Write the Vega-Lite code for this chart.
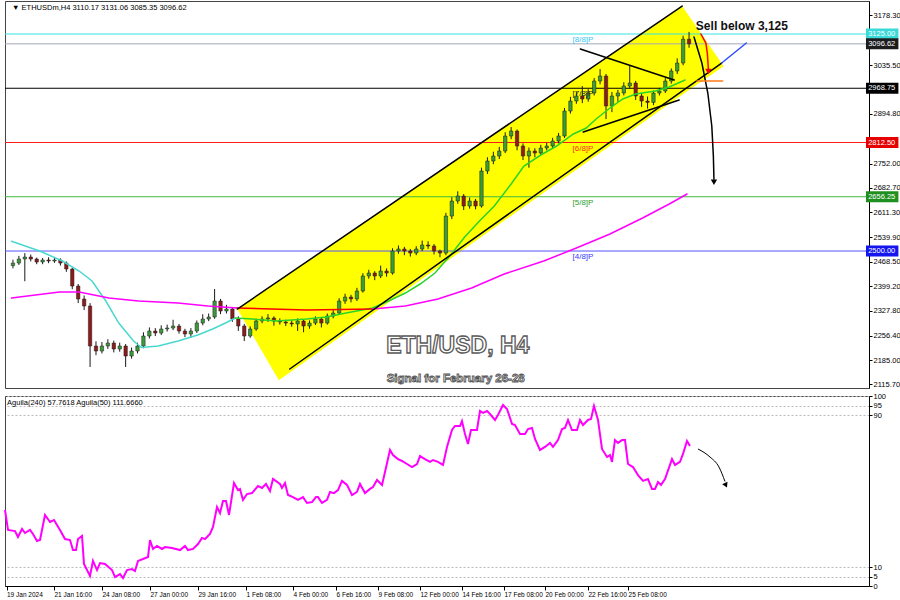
{
"$schema":"https://vega.github.io/schema/vega-lite/v6.json",
"padding":0,
"background":"white",
"spacing":2,
"config":{"view":{"stroke":"#444","strokeWidth":1},"font":"Liberation Sans","axis":{"labelFont":"Liberation Sans","labelColor":"#000","domainColor":"#000","tickColor":"#000","grid":false},"text":{"font":"Liberation Sans"}},
"datasets":{
"candles":[
{"t":1,"o":2458,"h":2475,"l":2450,"c":2465.4},{"t":3,"o":2465.4,"h":2486,"l":2460,"c":2477},{"t":5,"o":2477,"h":2494,"l":2413,"c":2482.7},{"t":7,"o":2482.7,"h":2490,"l":2470,"c":2477},{"t":9,"o":2477,"h":2481,"l":2462,"c":2468.3},{"t":11,"o":2468.3,"h":2480,"l":2462,"c":2474.1},{"t":13,"o":2474.1,"h":2482,"l":2465,"c":2471.2},{"t":15,"o":2471.2,"h":2481,"l":2466,"c":2474.1},{"t":17,"o":2474.1,"h":2479,"l":2458,"c":2465.4},{"t":19,"o":2465.4,"h":2470,"l":2440,"c":2448.2},
{"t":21,"o":2448.2,"h":2452,"l":2390,"c":2399.2},{"t":23,"o":2399.2,"h":2405,"l":2350,"c":2361.8},{"t":25,"o":2361.8,"h":2372,"l":2330,"c":2341.6},{"t":27,"o":2341.6,"h":2350,"l":2166,"c":2226.4},{"t":29,"o":2226.4,"h":2240,"l":2200,"c":2212},{"t":31,"o":2212,"h":2238,"l":2205,"c":2226.4},{"t":33,"o":2226.4,"h":2246,"l":2218,"c":2235},{"t":35,"o":2235,"h":2242,"l":2208,"c":2217.8},{"t":37,"o":2217.8,"h":2236,"l":2210,"c":2226.4},{"t":39,"o":2226.4,"h":2232,"l":2166,"c":2197.6},
{"t":41,"o":2197.6,"h":2222,"l":2190,"c":2212},{"t":43,"o":2212,"h":2236,"l":2205,"c":2226.4},{"t":45,"o":2226.4,"h":2266,"l":2220,"c":2255.2},{"t":47,"o":2255.2,"h":2280,"l":2248,"c":2269.6},{"t":49,"o":2269.6,"h":2278,"l":2255,"c":2263.8},{"t":51,"o":2263.8,"h":2286,"l":2258,"c":2275.4},{"t":53,"o":2275.4,"h":2288,"l":2268,"c":2278.2},{"t":55,"o":2278.2,"h":2302,"l":2272,"c":2284},{"t":57,"o":2284,"h":2290,"l":2262,"c":2269.6},{"t":59,"o":2269.6,"h":2276,"l":2252,"c":2261},
{"t":61,"o":2261,"h":2278,"l":2250,"c":2269.6},{"t":63,"o":2269.6,"h":2300,"l":2264,"c":2292.6},{"t":65,"o":2292.6,"h":2318,"l":2286,"c":2304.2},{"t":67,"o":2304.2,"h":2320,"l":2298,"c":2309.9},{"t":69,"o":2309.9,"h":2390.6,"l":2305,"c":2356},{"t":71,"o":2356,"h":2362,"l":2318,"c":2327.2},{"t":73,"o":2327.2,"h":2345,"l":2320,"c":2333},{"t":75,"o":2333,"h":2338,"l":2296,"c":2304.2},{"t":77,"o":2304.2,"h":2312,"l":2270,"c":2284},{"t":79,"o":2284,"h":2290,"l":2240.8,"c":2255.2},
{"t":81,"o":2255.2,"h":2283,"l":2250,"c":2275.4},{"t":83,"o":2275.4,"h":2305,"l":2270,"c":2298.4},{"t":85,"o":2298.4,"h":2312,"l":2292,"c":2304.2},{"t":87,"o":2304.2,"h":2318,"l":2296,"c":2307},{"t":89,"o":2307,"h":2312,"l":2285,"c":2298.4},{"t":91,"o":2298.4,"h":2306,"l":2288,"c":2295.5},{"t":93,"o":2295.5,"h":2302,"l":2284,"c":2292.6},{"t":95,"o":2292.6,"h":2300,"l":2282,"c":2290},{"t":97,"o":2290,"h":2306,"l":2270,"c":2298.4},{"t":99,"o":2298.4,"h":2302,"l":2266,"c":2284},
{"t":101,"o":2284,"h":2300,"l":2276,"c":2292.6},{"t":103,"o":2292.6,"h":2312,"l":2287,"c":2304.2},{"t":105,"o":2304.2,"h":2310,"l":2280,"c":2292.6},{"t":107,"o":2292.6,"h":2320,"l":2288,"c":2312.8},{"t":109,"o":2312.8,"h":2330,"l":2306,"c":2321.4},{"t":111,"o":2321.4,"h":2364,"l":2316,"c":2356},{"t":113,"o":2356,"h":2377,"l":2348,"c":2367.5},{"t":115,"o":2367.5,"h":2374,"l":2352,"c":2362},{"t":117,"o":2362,"h":2394,"l":2356,"c":2384.8},{"t":119,"o":2384.8,"h":2436,"l":2380,"c":2428},
{"t":121,"o":2428,"h":2446,"l":2420,"c":2436.6},{"t":123,"o":2436.6,"h":2442,"l":2416,"c":2428},{"t":125,"o":2428,"h":2458,"l":2422,"c":2442.4},{"t":127,"o":2442.4,"h":2450,"l":2426,"c":2436.6},{"t":129,"o":2436.6,"h":2508,"l":2432,"c":2500},{"t":131,"o":2500,"h":2516,"l":2492,"c":2505.8},{"t":133,"o":2505.8,"h":2512,"l":2488,"c":2500},{"t":135,"o":2500,"h":2506,"l":2484,"c":2494.2},{"t":137,"o":2494.2,"h":2514,"l":2488,"c":2505.8},{"t":139,"o":2505.8,"h":2530,"l":2500,"c":2517.3},
{"t":141,"o":2517.3,"h":2528,"l":2506,"c":2514.4},{"t":143,"o":2514.4,"h":2520,"l":2490,"c":2500},{"t":145,"o":2500,"h":2504,"l":2482,"c":2494.2},{"t":147,"o":2494.2,"h":2610,"l":2488,"c":2600.8},{"t":149,"o":2600.8,"h":2655,"l":2592,"c":2644},{"t":151,"o":2644,"h":2672,"l":2636,"c":2658.4},{"t":153,"o":2658.4,"h":2664,"l":2618,"c":2629.6},{"t":155,"o":2629.6,"h":2654,"l":2622,"c":2644},{"t":157,"o":2644,"h":2650,"l":2620,"c":2629.6},{"t":159,"o":2629.6,"h":2740,"l":2625,"c":2730.4},
{"t":161,"o":2730.4,"h":2770,"l":2722,"c":2759.2},{"t":163,"o":2759.2,"h":2786,"l":2750,"c":2773.6},{"t":165,"o":2773.6,"h":2800,"l":2765,"c":2788},{"t":167,"o":2788,"h":2842,"l":2782,"c":2831.2},{"t":169,"o":2831.2,"h":2857,"l":2822,"c":2845.6},{"t":171,"o":2845.6,"h":2850,"l":2790,"c":2802.4},{"t":173,"o":2802.4,"h":2810,"l":2762,"c":2773.6},{"t":175,"o":2773.6,"h":2798,"l":2740,"c":2788},{"t":177,"o":2788,"h":2796,"l":2770,"c":2782.2},{"t":179,"o":2782.2,"h":2806,"l":2776,"c":2796.6},
{"t":181,"o":2796.6,"h":2812,"l":2790,"c":2802.4},{"t":183,"o":2802.4,"h":2826,"l":2796,"c":2816.8},{"t":185,"o":2816.8,"h":2840,"l":2810,"c":2831.2},{"t":187,"o":2831.2,"h":2912,"l":2826,"c":2903.2},{"t":189,"o":2903.2,"h":2944,"l":2896,"c":2932},{"t":191,"o":2932,"h":2958,"l":2924,"c":2946.4},{"t":193,"o":2946.4,"h":2975,"l":2926,"c":2937.8},{"t":195,"o":2937.8,"h":2966,"l":2930,"c":2955},{"t":197,"o":2955,"h":2998,"l":2948,"c":2989.6},{"t":199,"o":2989.6,"h":3024,"l":2980,"c":3004},
{"t":201,"o":3004,"h":3010,"l":2880,"c":2917.6},{"t":203,"o":2917.6,"h":2958,"l":2900,"c":2946.4},{"t":205,"o":2946.4,"h":2964,"l":2930,"c":2955},{"t":207,"o":2955,"h":2986,"l":2948,"c":2975.2},{"t":209,"o":2975.2,"h":3033,"l":2968,"c":2983.8},{"t":211,"o":2983.8,"h":2990,"l":2935,"c":2946.4},{"t":213,"o":2946.4,"h":2955,"l":2915,"c":2932},{"t":215,"o":2932,"h":2945,"l":2910,"c":2928},{"t":217,"o":2928,"h":2962,"l":2920,"c":2955},{"t":219,"o":2955,"h":2970,"l":2948,"c":2960.8},
{"t":221,"o":2960.8,"h":2998,"l":2955,"c":2989.6},{"t":223,"o":2989.6,"h":3026,"l":2982,"c":3018.4},{"t":225,"o":3018.4,"h":3055,"l":3010,"c":3041.4},{"t":227,"o":3041.4,"h":3120,"l":3035,"c":3110.17},{"t":229,"o":3110.17,"h":3131.06,"l":3085.35,"c":3096.62}
],
"chan":[{"t":76.67,"p":2333,"p2":2333},{"t":90.67,"p":2414.5,"p2":2128},{"t":226.67,"p":3205.6,"p2":2950},{"t":240.67,"p":3032,"p2":3032}],
"levels":[{"lvl":"8/8","p":3125,"tag":"[8/8]P"},{"lvl":"cur","p":3096.62,"tag":""},{"lvl":"7/8","p":2968.75,"tag":"[7/8]P"},{"lvl":"6/8","p":2812.5,"tag":"[6/8]P"},{"lvl":"5/8","p":2656.25,"tag":"[5/8]P"},{"lvl":"4/8","p":2500,"tag":"[4/8]P"}],
"paths":[
{"s":"cyan","t":0.5,"p":2528},{"s":"cyan","t":10,"p":2500},{"s":"cyan","t":17.67,"p":2471.2},{"s":"cyan","t":23.33,"p":2442.4},{"s":"cyan","t":27.67,"p":2413.6},{"s":"cyan","t":32.33,"p":2356},{"s":"cyan","t":36.67,"p":2292.6},{"s":"cyan","t":41.67,"p":2240.8},{"s":"cyan","t":44.33,"p":2222},{"s":"cyan","t":50,"p":2226.4},{"s":"cyan","t":56.67,"p":2240.8},{"s":"cyan","t":63.33,"p":2258.1},{"s":"cyan","t":68.33,"p":2275.4},{"s":"cyan","t":72.67,"p":2292.6},{"s":"cyan","t":76,"p":2307},
{"s":"green","t":76,"p":2307},{"s":"green","t":81.67,"p":2304.2},{"s":"green","t":90,"p":2298.4},{"s":"green","t":100,"p":2304.2},{"s":"green","t":106.67,"p":2310},{"s":"green","t":113.33,"p":2321.4},{"s":"green","t":122.33,"p":2335.9},{"s":"green","t":127.67,"p":2356},{"s":"green","t":133.33,"p":2379},{"s":"green","t":138.33,"p":2405},{"s":"green","t":143.33,"p":2436.6},{"s":"green","t":148.33,"p":2485.6},{"s":"green","t":153.33,"p":2540.3},{"s":"green","t":158.33,"p":2586.4},{"s":"green","t":163.33,"p":2629.6},{"s":"green","t":169,"p":2693},{"s":"green","t":173.33,"p":2744.8},{"s":"green","t":179,"p":2776.5},{"s":"green","t":184.33,"p":2802.4},{"s":"green","t":190,"p":2837},{"s":"green","t":194.33,"p":2854.3},{"s":"green","t":197.67,"p":2880.2},{"s":"green","t":202.33,"p":2911.9},{"s":"green","t":206.67,"p":2937.8},{"s":"green","t":211,"p":2952.2},{"s":"green","t":217.67,"p":2960.8},{"s":"green","t":222.33,"p":2972.3},{"s":"green","t":227.67,"p":2992.5},
{"s":"mag1","t":0.5,"p":2364.6},{"s":"mag1","t":16.67,"p":2381.9},{"s":"mag1","t":23.33,"p":2381.9},{"s":"mag1","t":33.33,"p":2364.6},{"s":"mag1","t":43.33,"p":2356},{"s":"mag1","t":56.67,"p":2350.2},{"s":"mag1","t":66.67,"p":2341.6},{"s":"mag1","t":76.67,"p":2335.8},
{"s":"red","t":76.67,"p":2335.8},{"s":"red","t":100,"p":2330},{"s":"red","t":122.33,"p":2333},
{"s":"mag2","t":122.33,"p":2333},{"s":"mag2","t":133.33,"p":2341.6},{"s":"mag2","t":144.33,"p":2361.8},{"s":"mag2","t":155.67,"p":2393.4},{"s":"mag2","t":166.67,"p":2433.8},{"s":"mag2","t":180,"p":2471.2},{"s":"mag2","t":191,"p":2508.6},{"s":"mag2","t":202.33,"p":2549},{"s":"mag2","t":213.33,"p":2595},{"s":"mag2","t":222.33,"p":2635.4},{"s":"mag2","t":228.33,"p":2664.2},
{"s":"up","t":76.67,"p":2333},{"s":"up","t":226.67,"p":3205.6},
{"s":"low","t":94.33,"p":2160.2},{"s":"low","t":240,"p":3041.4},
{"s":"ext","t":240,"p":3041.4},{"s":"ext","t":248.33,"p":3099},
{"s":"tl1","t":192.33,"p":3081.8},{"s":"tl1","t":224,"p":2992.5},
{"s":"tl2","t":193.33,"p":2842.8},{"s":"tl2","t":225.67,"p":2934.9},
{"s":"arrow","t":230.67,"p":3116.4},{"s":"arrow","t":233.33,"p":3041.4},{"s":"arrow","t":235.33,"p":2955},{"s":"arrow","t":236.67,"p":2860},{"s":"arrow","t":237.2,"p":2773.6},{"s":"arrow","t":237.4,"p":2707},
{"s":"redarc","t":233,"p":3125},{"s":"redarc","t":234.67,"p":3099},{"s":"redarc","t":235.2,"p":3067.4},{"s":"redarc","t":235.4,"p":3038.6},{"s":"redarc","t":235.5,"p":3024},
{"s":"orange","t":231.67,"p":2989.6},{"s":"orange","t":240.33,"p":2989.6}
],
"heads":[{"s":"blk","t":237.4,"p":2698},{"s":"red","t":235.5,"p":3017}],
"notes":[{"id":"hdr","t":0.7,"p":3200,"txt":"▼ ETHUSDm,H4  3110.17 3131.06 3085.35 3096.62"},{"id":"sell","t":231.3,"p":3148,"txt":"Sell below 3,125"},{"id":"title","t":151,"p":2206,"txt":"ETH/USD, H4"},{"id":"sub","t":150.3,"p":2122.7,"txt":"Signal for February 26-28"}],
"aguila":[
{"t":0,"v":40},{"t":1,"v":29.5},{"t":3.33,"v":28.9},{"t":4.33,"v":25.8},{"t":5.67,"v":30},{"t":6.67,"v":27.9},{"t":8.33,"v":29.5},{"t":9.33,"v":27.4},{"t":10.67,"v":23.7},{"t":11.67,"v":24.2},{"t":13.33,"v":37.4},{"t":15,"v":33.7},{"t":16.33,"v":34.7},{"t":18.33,"v":29.5},{"t":20,"v":24.7},{"t":21.67,"v":24.2},{"t":22.67,"v":18.9},{"t":23.67,"v":18.9},{"t":24.33,"v":24.7},{"t":25.67,"v":26.3},{"t":26.33,"v":11.6},{"t":28.33,"v":5.3},{"t":29.33,"v":13.2},{"t":30.67,"v":8.4},{"t":31.67,"v":12.1},{"t":33.33,"v":11.6},{"t":35.67,"v":8.4},{"t":36.67,"v":4.7},{"t":38.33,"v":6.3},{"t":39.33,"v":4.2},{"t":40.67,"v":8.4},{"t":42.33,"v":8.9},{"t":43.33,"v":7.9},{"t":44.33,"v":13.2},{"t":46,"v":14.2},{"t":47.67,"v":15.3},{"t":48.33,"v":24.2},{"t":49.33,"v":19.5},{"t":50.67,"v":21.1},{"t":52.33,"v":19.5},{"t":53.33,"v":20.5},{"t":55.67,"v":20},{"t":58.33,"v":18.9},{"t":60,"v":21.1},{"t":61,"v":18.9},{"t":62.67,"v":19.5},{"t":64.33,"v":22.1},{"t":65.67,"v":25.3},{"t":66.67,"v":24.7},{"t":68.33,"v":27.4},{"t":69.33,"v":31.1},{"t":70.67,"v":41.6},{"t":71.67,"v":38.4},{"t":72.67,"v":44.7},{"t":73.67,"v":44.7},{"t":74.67,"v":37.4},{"t":76.33,"v":54.2},{"t":77.67,"v":50.5},{"t":78.33,"v":51.1},{"t":79.33,"v":45.3},{"t":80.67,"v":48.4},{"t":82.33,"v":48.9},{"t":84.33,"v":52.6},{"t":85.67,"v":51.6},{"t":87,"v":53.7},{"t":88.33,"v":50},{"t":89.33,"v":56.3},{"t":91.67,"v":53.7},{"t":92.33,"v":51.6},{"t":93.33,"v":54.2},{"t":94.33,"v":47.9},{"t":96,"v":46.8},{"t":97.67,"v":45.3},{"t":99.33,"v":46.8},{"t":100.67,"v":43.7},{"t":102.33,"v":44.2},{"t":103.67,"v":46.8},{"t":104.33,"v":46.8},{"t":105.67,"v":43.7},{"t":107.33,"v":45.3},{"t":108.33,"v":49.5},{"t":109.67,"v":48.9},{"t":111,"v":50.5},{"t":112.33,"v":55.3},{"t":114,"v":53.2},{"t":115.67,"v":47.9},{"t":117.33,"v":49.5},{"t":118.33,"v":53.7},{"t":120,"v":48.9},{"t":121.67,"v":51.1},{"t":122.67,"v":52.1},{"t":124,"v":55.8},{"t":125.67,"v":53.2},{"t":126.67,"v":60},{"t":128.33,"v":71.6},{"t":129.33,"v":68.9},{"t":131,"v":66.8},{"t":132.33,"v":65.8},{"t":134,"v":64.2},{"t":135.67,"v":62.6},{"t":137.33,"v":64.2},{"t":138.33,"v":68.4},{"t":140,"v":66.8},{"t":141.67,"v":65.3},{"t":142.67,"v":66.3},{"t":144.33,"v":65.3},{"t":146,"v":63.7},{"t":147.33,"v":73.2},{"t":149,"v":82.1},{"t":150,"v":84.2},{"t":151.67,"v":84.2},{"t":152.33,"v":86.8},{"t":153.33,"v":80},{"t":154.33,"v":74.7},{"t":155.33,"v":82.1},{"t":157.33,"v":82.1},{"t":158.33,"v":92.1},{"t":159.33,"v":91.1},{"t":160.67,"v":92.1},{"t":161.67,"v":90.5},{"t":163.33,"v":87.4},{"t":164.33,"v":90},{"t":166,"v":95.3},{"t":167.33,"v":93.2},{"t":169,"v":85.3},{"t":170,"v":84.7},{"t":171.67,"v":80},{"t":173.33,"v":80},{"t":174.33,"v":82.6},{"t":175.67,"v":83.2},{"t":176.67,"v":77.4},{"t":178.33,"v":71.6},{"t":180,"v":73.2},{"t":181.67,"v":75.3},{"t":182.67,"v":73.2},{"t":184.33,"v":76.8},{"t":185.67,"v":82.6},{"t":186.67,"v":83.2},{"t":187.67,"v":87.4},{"t":189,"v":82.1},{"t":190.67,"v":82.1},{"t":191.67,"v":87.4},{"t":192.67,"v":84.7},{"t":194.33,"v":87.4},{"t":195.33,"v":87.9},{"t":196.33,"v":94.7},{"t":197.67,"v":87.4},{"t":199,"v":72.1},{"t":200.67,"v":67.9},{"t":201.67,"v":68.9},{"t":202.33,"v":65.3},{"t":203.33,"v":76.8},{"t":204.33,"v":75.3},{"t":205.67,"v":76.8},{"t":206.67,"v":76.8},{"t":207.67,"v":64.2},{"t":209.33,"v":62.6},{"t":211,"v":58.4},{"t":212.67,"v":55.3},{"t":214.33,"v":56.3},{"t":215.67,"v":51.1},{"t":216.67,"v":51.1},{"t":217.67,"v":54.7},{"t":218.67,"v":53.2},{"t":220,"v":56.3},{"t":222.33,"v":66.8},{"t":223.33,"v":63.7},{"t":225,"v":65.3},{"t":226,"v":69.5},{"t":227.33,"v":76.3},{"t":228.33,"v":73.7}
],
"lowArrow":[{"t":231,"v":72.1},{"t":235,"v":67.9},{"t":238,"v":62.6},{"t":240,"v":55}],
"lowHead":[{"t":240.3,"v":53}],
"lowNotes":[{"t":0.7,"v":96.3,"txt":"Aguila(240) 57.7618  Aguila(50) 111.6660"}]
},
"vconcat":[
{
"width":864,"height":387,
"resolve":{"scale":{"color":"independent","strokeWidth":"independent"}},
"layer":[
{"data":{"name":"chan"},"mark":{"type":"area","color":"#ffff00","opacity":1},
 "encoding":{"x":{"field":"t","type":"quantitative","scale":{"domain":[0,288],"nice":false,"zero":false},"axis":null},
 "y":{"field":"p","type":"quantitative","scale":{"domain":[2105.5,3220.04],"nice":false,"zero":false},"title":null,"axis":{"orient":"right","values":[3178.3,3035.5,2894.8,2752,2682.7,2611.3,2539.9,2468.5,2399.2,2327.8,2256.4,2185,2115.7],"format":".2f","labelFontSize":7.5,"tickSize":3,"labelPadding":1,"labelOverlap":false,"labelFlush":false,"grid":false,"title":null}},
 "y2":{"field":"p2"}}},
{"data":{"name":"levels"},"mark":{"type":"rule","strokeWidth":1},
 "encoding":{"y":{"field":"p","type":"quantitative","scale":{"domain":[2105.5,3220.04],"nice":false,"zero":false},"title":null,"axis":{"orient":"right","values":[3178.3,3035.5,2894.8,2752,2682.7,2611.3,2539.9,2468.5,2399.2,2327.8,2256.4,2185,2115.7],"format":".2f","labelFontSize":7.5,"tickSize":3,"labelPadding":1,"labelOverlap":false,"labelFlush":false,"grid":false,"title":null}},
 "color":{"field":"lvl","type":"nominal","scale":{"domain":["8/8","cur","7/8","6/8","5/8","4/8"],"range":["#35e3e3","#a3a8b8","#000000","#ff1a1a","#40b840","#5555ff"]},"legend":null}}},
{"data":{"name":"candles"},"mark":{"type":"rule","color":"#1a1a1a","strokeWidth":1},
 "encoding":{"x":{"field":"t","type":"quantitative","scale":{"domain":[0,288],"nice":false,"zero":false},"axis":null},
 "y":{"field":"l","type":"quantitative","scale":{"domain":[2105.5,3220.04],"nice":false,"zero":false},"title":null,"axis":{"orient":"right","values":[3178.3,3035.5,2894.8,2752,2682.7,2611.3,2539.9,2468.5,2399.2,2327.8,2256.4,2185,2115.7],"format":".2f","labelFontSize":7.5,"tickSize":3,"labelPadding":1,"labelOverlap":false,"labelFlush":false,"grid":false,"title":null}},"y2":{"field":"h"}}},
{"data":{"name":"candles"},"mark":{"type":"bar","width":3.4,"stroke":"#1a1a1a","strokeWidth":0.5},
 "encoding":{"x":{"field":"t","type":"quantitative","scale":{"domain":[0,288],"nice":false,"zero":false},"axis":null},
 "y":{"field":"o","type":"quantitative","scale":{"domain":[2105.5,3220.04],"nice":false,"zero":false},"title":null,"axis":{"orient":"right","values":[3178.3,3035.5,2894.8,2752,2682.7,2611.3,2539.9,2468.5,2399.2,2327.8,2256.4,2185,2115.7],"format":".2f","labelFontSize":7.5,"tickSize":3,"labelPadding":1,"labelOverlap":false,"labelFlush":false,"grid":false,"title":null}},"y2":{"field":"c"},
 "fill":{"condition":{"test":"datum.c >= datum.o","value":"#3a9d3a"},"value":"#8e1b1b"}}},
{"data":{"name":"paths"},"mark":{"type":"line","strokeCap":"round"},
 "encoding":{"x":{"field":"t","type":"quantitative","scale":{"domain":[0,288],"nice":false,"zero":false},"axis":null},
 "y":{"field":"p","type":"quantitative","scale":{"domain":[2105.5,3220.04],"nice":false,"zero":false},"title":null,"axis":{"orient":"right","values":[3178.3,3035.5,2894.8,2752,2682.7,2611.3,2539.9,2468.5,2399.2,2327.8,2256.4,2185,2115.7],"format":".2f","labelFontSize":7.5,"tickSize":3,"labelPadding":1,"labelOverlap":false,"labelFlush":false,"grid":false,"title":null}},
 "detail":{"field":"s"},
 "color":{"field":"s","type":"nominal","scale":{"domain":["cyan","green","mag1","red","mag2","up","low","ext","tl1","tl2","arrow","redarc","orange"],"range":["#48d8d0","#28d428","#ff00ff","#ff0000","#ff00ff","#000000","#000000","#2f4fff","#000000","#000000","#000000","#ff0000","#ff7a1a"]},"legend":null},
 "strokeWidth":{"field":"s","type":"ordinal","scale":{"domain":["cyan","green","mag1","red","mag2","up","low","ext","tl1","tl2","arrow","redarc","orange"],"range":[1.5,1.5,3.5,3.5,3.5,1.8,1.8,1.5,0.8,0.8,1,1,3]},"legend":null}}},
{"data":{"name":"heads"},"mark":{"type":"point","shape":"triangle-down","filled":true,"size":40,"opacity":1},
 "encoding":{"x":{"field":"t","type":"quantitative","scale":{"domain":[0,288],"nice":false,"zero":false},"axis":null},
 "y":{"field":"p","type":"quantitative","scale":{"domain":[2105.5,3220.04],"nice":false,"zero":false},"title":null,"axis":{"orient":"right","values":[3178.3,3035.5,2894.8,2752,2682.7,2611.3,2539.9,2468.5,2399.2,2327.8,2256.4,2185,2115.7],"format":".2f","labelFontSize":7.5,"tickSize":3,"labelPadding":1,"labelOverlap":false,"labelFlush":false,"grid":false,"title":null}},
 "color":{"field":"s","type":"nominal","scale":{"domain":["blk","red"],"range":["#000000","#ff0000"]},"legend":null}}},
{"data":{"name":"levels"},"transform":[{"filter":"datum.tag != ''"}],"mark":{"type":"text","align":"left","baseline":"top","dy":2,"fontSize":8},
 "encoding":{"x":{"datum":189.7,"type":"quantitative","scale":{"domain":[0,288],"nice":false,"zero":false},"axis":null},
 "y":{"field":"p","type":"quantitative","scale":{"domain":[2105.5,3220.04],"nice":false,"zero":false},"title":null,"axis":{"orient":"right","values":[3178.3,3035.5,2894.8,2752,2682.7,2611.3,2539.9,2468.5,2399.2,2327.8,2256.4,2185,2115.7],"format":".2f","labelFontSize":7.5,"tickSize":3,"labelPadding":1,"labelOverlap":false,"labelFlush":false,"grid":false,"title":null}},
 "text":{"field":"tag"},
 "color":{"field":"lvl","type":"nominal","scale":{"domain":["8/8","7/8","6/8","5/8","4/8"],"range":["#38c6f4","#222222","#ff2a2a","#2e9e2e","#3a3aff"]},"legend":null}}},
{"data":{"name":"levels"},"mark":{"type":"rect","height":11},
 "encoding":{"x":{"datum":288.67,"type":"quantitative","scale":{"domain":[0,288],"nice":false,"zero":false},"axis":null},"x2":{"datum":299.6},
 "y":{"field":"p","type":"quantitative","scale":{"domain":[2105.5,3220.04],"nice":false,"zero":false},"title":null,"axis":{"orient":"right","values":[3178.3,3035.5,2894.8,2752,2682.7,2611.3,2539.9,2468.5,2399.2,2327.8,2256.4,2185,2115.7],"format":".2f","labelFontSize":7.5,"tickSize":3,"labelPadding":1,"labelOverlap":false,"labelFlush":false,"grid":false,"title":null}},
 "color":{"field":"lvl","type":"nominal","scale":{"domain":["8/8","cur","7/8","6/8","5/8","4/8"],"range":["#3ad9d9","#1c1c1c","#000000","#e60000","#1f8f1f","#1515ee"]},"legend":null}}},
{"data":{"name":"levels"},"mark":{"type":"text","align":"left","baseline":"middle","color":"#ffffff","fontSize":7.5},
 "encoding":{"x":{"datum":289.4,"type":"quantitative","scale":{"domain":[0,288],"nice":false,"zero":false},"axis":null},
 "y":{"field":"p","type":"quantitative","scale":{"domain":[2105.5,3220.04],"nice":false,"zero":false},"title":null,"axis":{"orient":"right","values":[3178.3,3035.5,2894.8,2752,2682.7,2611.3,2539.9,2468.5,2399.2,2327.8,2256.4,2185,2115.7],"format":".2f","labelFontSize":7.5,"tickSize":3,"labelPadding":1,"labelOverlap":false,"labelFlush":false,"grid":false,"title":null}},
 "text":{"field":"p","type":"quantitative","format":".2f"}}},
{"data":{"name":"notes"},"transform":[{"filter":"datum.id == 'hdr'"}],"mark":{"type":"text","align":"left","baseline":"middle","fontSize":7.5,"color":"#000"},
 "encoding":{"x":{"field":"t","type":"quantitative","scale":{"domain":[0,288],"nice":false,"zero":false},"axis":null},
 "y":{"field":"p","type":"quantitative","scale":{"domain":[2105.5,3220.04],"nice":false,"zero":false},"title":null,"axis":{"orient":"right","values":[3178.3,3035.5,2894.8,2752,2682.7,2611.3,2539.9,2468.5,2399.2,2327.8,2256.4,2185,2115.7],"format":".2f","labelFontSize":7.5,"tickSize":3,"labelPadding":1,"labelOverlap":false,"labelFlush":false,"grid":false,"title":null}},"text":{"field":"txt"}}},
{"data":{"name":"notes"},"transform":[{"filter":"datum.id == 'sell'"}],"mark":{"type":"text","align":"left","baseline":"middle","fontSize":12,"fontWeight":"bold","color":"#111"},
 "encoding":{"x":{"field":"t","type":"quantitative","scale":{"domain":[0,288],"nice":false,"zero":false},"axis":null},
 "y":{"field":"p","type":"quantitative","scale":{"domain":[2105.5,3220.04],"nice":false,"zero":false},"title":null,"axis":{"orient":"right","values":[3178.3,3035.5,2894.8,2752,2682.7,2611.3,2539.9,2468.5,2399.2,2327.8,2256.4,2185,2115.7],"format":".2f","labelFontSize":7.5,"tickSize":3,"labelPadding":1,"labelOverlap":false,"labelFlush":false,"grid":false,"title":null}},"text":{"field":"txt"}}},
{"data":{"name":"notes"},"transform":[{"filter":"datum.id == 'title'"}],"mark":{"type":"text","align":"center","baseline":"alphabetic","fontSize":23,"fontWeight":"bold","fill":"#ffffff","stroke":"#5a5a5a","strokeWidth":1.3},
 "encoding":{"x":{"field":"t","type":"quantitative","scale":{"domain":[0,288],"nice":false,"zero":false},"axis":null},
 "y":{"field":"p","type":"quantitative","scale":{"domain":[2105.5,3220.04],"nice":false,"zero":false},"title":null,"axis":{"orient":"right","values":[3178.3,3035.5,2894.8,2752,2682.7,2611.3,2539.9,2468.5,2399.2,2327.8,2256.4,2185,2115.7],"format":".2f","labelFontSize":7.5,"tickSize":3,"labelPadding":1,"labelOverlap":false,"labelFlush":false,"grid":false,"title":null}},"text":{"field":"txt"}}},
{"data":{"name":"notes"},"transform":[{"filter":"datum.id == 'sub'"}],"mark":{"type":"text","align":"center","baseline":"alphabetic","fontSize":11.5,"fontWeight":"bold","fill":"#ffffff","stroke":"#555555","strokeWidth":0.9},
 "encoding":{"x":{"field":"t","type":"quantitative","scale":{"domain":[0,288],"nice":false,"zero":false},"axis":null},
 "y":{"field":"p","type":"quantitative","scale":{"domain":[2105.5,3220.04],"nice":false,"zero":false},"title":null,"axis":{"orient":"right","values":[3178.3,3035.5,2894.8,2752,2682.7,2611.3,2539.9,2468.5,2399.2,2327.8,2256.4,2185,2115.7],"format":".2f","labelFontSize":7.5,"tickSize":3,"labelPadding":1,"labelOverlap":false,"labelFlush":false,"grid":false,"title":null}},"text":{"field":"txt"}}}
]
},
{
"width":864,"height":190,
"encoding":{
 "x":{"field":"t","type":"quantitative","scale":{"domain":[0,288],"nice":false,"zero":false},"title":null,
  "axis":{"orient":"bottom","values":[0.5,16.33,32.33,48.33,64.33,80.33,96,110.33,124.33,138.33,152.33,166.33,180,194.33,207.67],
   "labelExpr":"['19 Jan 2024','21 Jan 16:00','24 Jan 08:00','27 Jan 00:00','29 Jan 16:00','1 Feb 08:00','4 Feb 00:00','6 Feb 16:00','9 Feb 08:00','12 Feb 00:00','14 Feb 16:00','17 Feb 08:00','20 Feb 00:00','22 Feb 16:00','25 Feb 08:00'][indexof([0.5,16.33,32.33,48.33,64.33,80.33,96,110.33,124.33,138.33,152.33,166.33,180,194.33,207.67], datum.value)]",
   "labelAlign":"left","labelFontSize":6.5,"tickSize":4,"labelPadding":1,"labelOverlap":false,"labelFlush":false,"grid":false,"title":null}},
 "y":{"field":"v","type":"quantitative","scale":{"domain":[0,100],"nice":false,"zero":false},"title":null,
  "axis":{"orient":"right","values":[0,5,10,90,95,100],"labelFontSize":7.5,"tickSize":3,"labelPadding":1,"labelOverlap":false,"labelFlush":false,"grid":true,"gridDash":[2,2],"gridColor":"#bcbcbc","title":null}}
},
"layer":[
{"data":{"name":"aguila"},"mark":{"type":"line","color":"#ff00ff","strokeWidth":2}},
{"data":{"name":"lowArrow"},"mark":{"type":"line","color":"#000000","strokeWidth":1,"interpolate":"monotone"}},
{"data":{"name":"lowHead"},"mark":{"type":"point","shape":"triangle-down","filled":true,"size":35,"color":"#000000","opacity":1,"angle":-25}},
{"data":{"name":"lowNotes"},"mark":{"type":"text","align":"left","baseline":"middle","fontSize":7.5,"color":"#000"},"encoding":{"text":{"field":"txt"}}}
]
}
]
}
